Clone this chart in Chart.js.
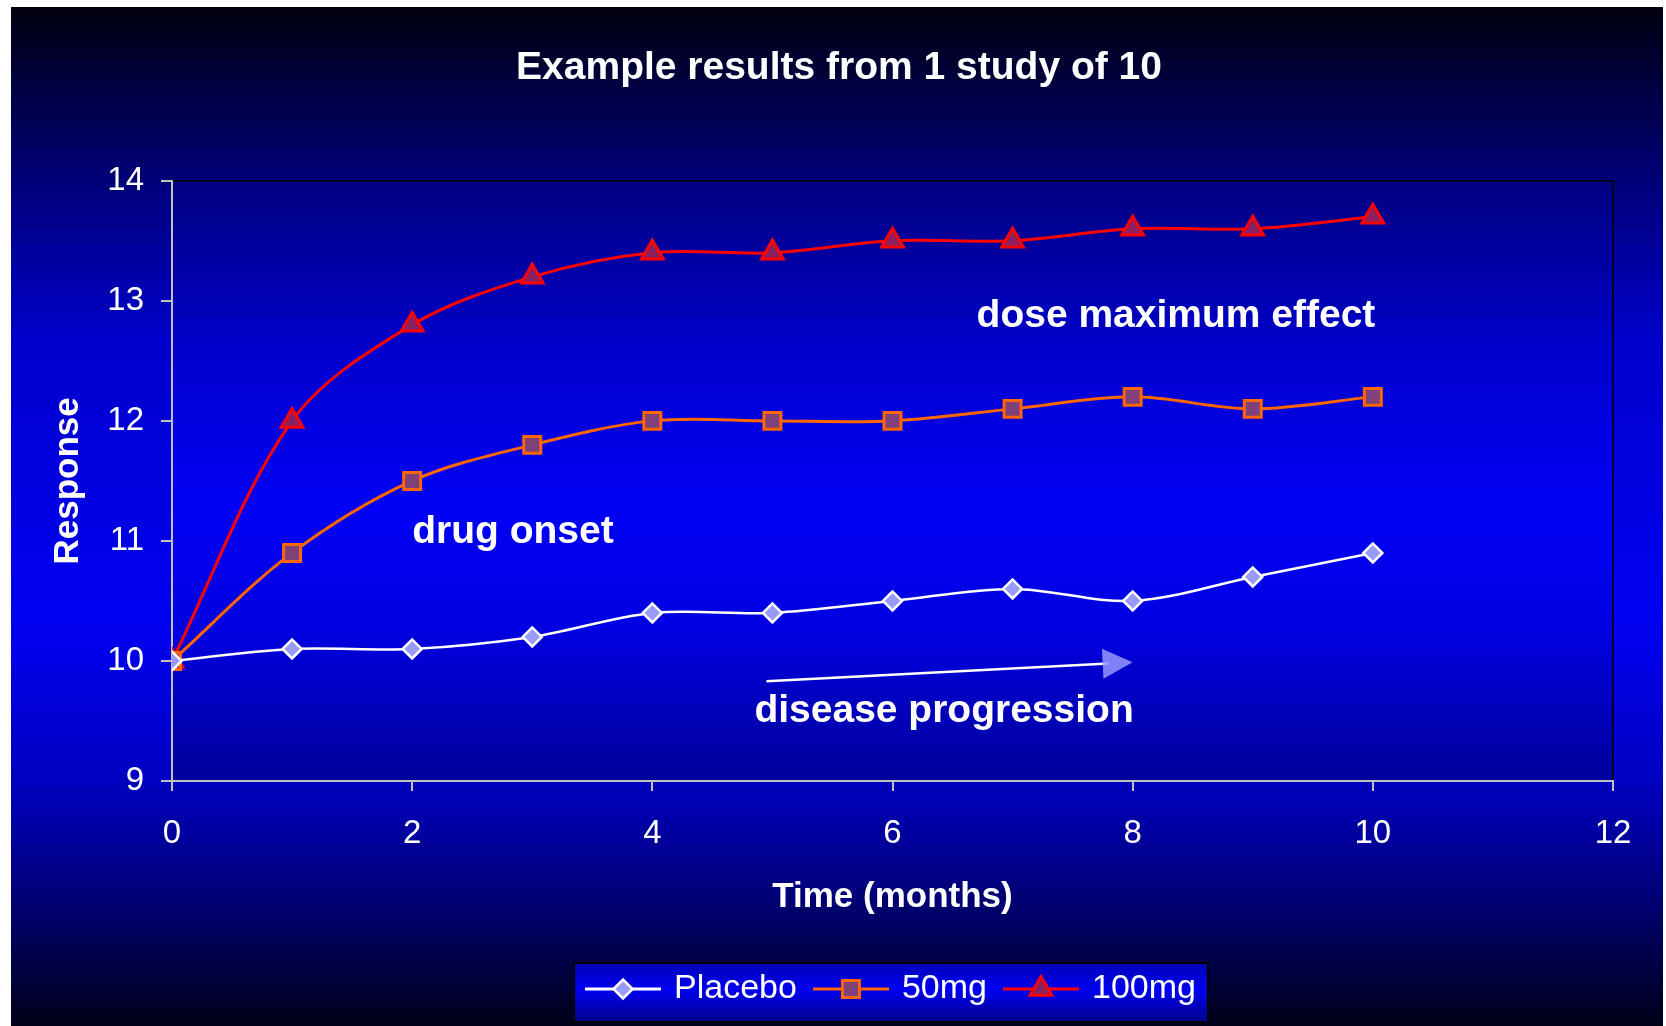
<!DOCTYPE html>
<html>
<head>
<meta charset="utf-8">
<title>Example results from 1 study of 10</title>
<script src="https://cdn.jsdelivr.net/npm/chart.js@4.4.1/dist/chart.umd.min.js"></script>
<style>
  html, body { margin: 0; padding: 0; background: #fff; }
  #wrap { width: 1666px; height: 1026px; }
</style>
</head>
<body>
<div id="wrap"><canvas id="chart" width="1666" height="1026"></canvas></div>
<script>
// values, month 0..10
var months  = [0, 1, 2, 3, 4, 5, 6, 7, 8, 9, 10];
var placebo = [10, 10.1, 10.1, 10.2, 10.4, 10.4, 10.5, 10.6, 10.5, 10.7, 10.9];
var dose50  = [10, 10.9, 11.5, 11.8, 12.0, 12.0, 12.0, 12.1, 12.2, 12.1, 12.2];
var dose100 = [10, 12.0, 12.8, 13.2, 13.4, 13.4, 13.5, 13.5, 13.6, 13.6, 13.7];
var seriesNames = ['Placebo', '50mg', '100mg'];
var xTicks = [0, 2, 4, 6, 8, 10, 12];
var yTicks = [9, 10, 11, 12, 13, 14];

// text notes, anchored in data units (left edge, baseline)
var notes = [
    { text: 'dose maximum effect', x: 6.70, y: 12.78 },
    { text: 'drug onset',          x: 2.00, y: 10.98 },
    { text: 'disease progression', x: 4.85, y: 9.49 }
];
var arrowFrom = [4.95, 9.83];
var arrowTo   = [8.00, 9.99];

var FONT = '"Liberation Sans", Arial, sans-serif';

function pts(vals) {
    return vals.map(function (v, i) { return { x: months[i], y: v }; });
}

function legendIcon(color, fill, style, radius, bw) {
    var c = document.createElement('canvas');
    c.width = 76; c.height = 32;
    var g = c.getContext('2d');
    g.strokeStyle = color; g.lineWidth = 3;
    g.beginPath(); g.moveTo(0, 16); g.lineTo(76, 16); g.stroke();
    g.fillStyle = fill; g.lineWidth = bw;
    Chart.helpers.drawPoint(g, { pointStyle: style, radius: radius, borderWidth: bw, rotation: 0 }, 38, 16);
    return c;
}

var styles = [
    { color: '#ffffff', fill: '#9999ff', point: 'rectRot',  radius: 9.5, bw: 2.5, line: 2.5 },
    { color: '#ff6600', fill: '#80407a', point: 'rect',     radius: 12, bw: 3, line: 3 },
    { color: '#ff0000', fill: '#8a2060', point: 'triangle', radius: 12.5, bw: 3, line: 3 }
];
var icons = styles.map(function (s) { return legendIcon(s.color, s.fill, s.point, s.radius, s.bw); });

var backdrop = {
    id: 'backdrop',
    beforeDraw: function (chart) {
        var ctx = chart.ctx, a = chart.chartArea;
        ctx.save();
        // outer frame
        var g = ctx.createLinearGradient(0, 7, 0, chart.height);
        g.addColorStop(0, '#000010');
        g.addColorStop(0.17, '#000078');
        g.addColorStop(0.33, '#0000cc');
        g.addColorStop(0.6, '#0000f2');
        g.addColorStop(0.76, '#0000c0');
        g.addColorStop(0.86, '#000080');
        g.addColorStop(1, '#000018');
        ctx.fillStyle = g;
        ctx.fillRect(11, 7, chart.width - 14, chart.height - 7);

        // plot area
        var pg = ctx.createLinearGradient(0, a.top, 0, a.bottom);
        pg.addColorStop(0, '#000080');
        pg.addColorStop(0.3, '#0000d0');
        pg.addColorStop(0.55, '#0000f5');
        pg.addColorStop(0.75, '#0000e0');
        pg.addColorStop(1, '#00009a');
        ctx.fillStyle = pg;
        ctx.fillRect(a.left, a.top, a.right - a.left, a.bottom - a.top);
        ctx.strokeStyle = '#000'; ctx.lineWidth = 1.5;
        ctx.beginPath();
        ctx.moveTo(a.left, a.top);
        ctx.lineTo(a.right, a.top);
        ctx.lineTo(a.right, a.bottom);
        ctx.stroke();

        // legend box
        var hb = chart.legend && chart.legend.legendHitBoxes;
        if (hb && hb.length) {
            var first = hb[0], last = hb[hb.length - 1];
            var x0 = first.left - 15, x1 = last.left + last.width + 12;
            var y0 = first.top - 9, y1 = first.top + 50;
            var lg = ctx.createLinearGradient(0, y0, 0, y1);
            lg.addColorStop(0, '#0000b8');
            lg.addColorStop(0.45, '#0000f0');
            lg.addColorStop(1, '#00008c');
            ctx.fillStyle = lg;
            ctx.fillRect(x0, y0, x1 - x0, y1 - y0);
            ctx.strokeStyle = '#000'; ctx.lineWidth = 2;
            ctx.strokeRect(x0, y0, x1 - x0, y1 - y0);
        }
        ctx.restore();
    },
    afterDraw: function (chart) {
        var ctx = chart.ctx, xs = chart.scales.x, ys = chart.scales.y;
        ctx.save();
        // arrow
        var ax0 = xs.getPixelForValue(arrowFrom[0]), ay0 = ys.getPixelForValue(arrowFrom[1]);
        var ax1 = xs.getPixelForValue(arrowTo[0]),   ay1 = ys.getPixelForValue(arrowTo[1]);
        var ang = Math.atan2(ay1 - ay0, ax1 - ax0);
        var hl = 30, hw = 15;
        var bx = ax1 - hl * Math.cos(ang), by = ay1 - hl * Math.sin(ang);
        ctx.strokeStyle = '#ffffff'; ctx.lineWidth = 2.5;
        ctx.beginPath(); ctx.moveTo(ax0, ay0); ctx.lineTo(bx + 6 * Math.cos(ang), by + 6 * Math.sin(ang)); ctx.stroke();
        ctx.fillStyle = 'rgba(150,150,255,0.85)';
        ctx.beginPath();
        ctx.moveTo(ax1, ay1);
        ctx.lineTo(bx + hw * Math.sin(ang), by - hw * Math.cos(ang));
        ctx.lineTo(bx - hw * Math.sin(ang), by + hw * Math.cos(ang));
        ctx.closePath(); ctx.fill();

        // notes
        ctx.fillStyle = '#ffffff';
        ctx.font = 'bold 39px ' + FONT;
        ctx.textAlign = 'left'; ctx.textBaseline = 'alphabetic';
        notes.forEach(function (n) {
            ctx.fillText(n.text, xs.getPixelForValue(n.x), ys.getPixelForValue(n.y));
        });
        ctx.restore();
    }
};

var series = [placebo, dose50, dose100];
var datasets = series.map(function (vals, i) {
    var s = styles[i];
    return {
        label: seriesNames[i],
        data: pts(vals),
        borderColor: s.color,
        backgroundColor: s.fill,
        borderWidth: s.line,
        pointStyle: s.point,
        pointRadius: s.radius,
        pointBorderWidth: s.bw,
        pointBorderColor: s.color,
        pointBackgroundColor: s.fill,
        tension: 0.33,
        fill: false
    };
});

new Chart(document.getElementById('chart').getContext('2d'), {
    type: 'line',
    data: { datasets: datasets },
    plugins: [backdrop],
    options: {
        responsive: false,
        animation: false,
        events: [],
        layout: { padding: { left: 65, right: 53, top: 0, bottom: 10 } },
        plugins: {
            title: {
                display: true,
                text: 'Example results from 1 study of 10',
                color: '#ffffff',
                font: { family: FONT, size: 39, weight: 'bold' },
                padding: { top: 45, bottom: 89 }
            },
            legend: {
                position: 'bottom',
                fullSize: false,
                labels: {
                    color: '#ffffff',
                    font: { family: FONT, size: 34 },
                    usePointStyle: true,
                    pointStyleWidth: 68,
                    padding: 20,
                    generateLabels: function (chart) {
                        var items = Chart.defaults.plugins.legend.labels.generateLabels(chart);
                        items.forEach(function (it, i) { it.pointStyle = icons[i]; it.fontColor = '#ffffff'; });
                        return items;
                    }
                }
            },
            tooltip: { enabled: false }
        },
        scales: {
            x: {
                type: 'linear',
                min: xTicks[0], max: xTicks[xTicks.length - 1],
                afterBuildTicks: function (s) { s.ticks = xTicks.map(function (v) { return { value: v }; }); },
                afterFit: function (s) { s.height = 171; },
                grid: { drawOnChartArea: false, drawTicks: true, tickLength: 10, color: '#c0c0c0', lineWidth: 2 },
                border: { display: true, color: '#c0c0c0', width: 2 },
                ticks: { color: '#ffffff', font: { family: FONT, size: 33 }, padding: 23, maxRotation: 0 },
                title: {
                    display: true, text: 'Time (months)', color: '#ffffff',
                    font: { family: FONT, size: 35, weight: 'bold' },
                    padding: { top: 0, bottom: 34 }
                }
            },
            y: {
                min: yTicks[0], max: yTicks[yTicks.length - 1],
                afterBuildTicks: function (s) { s.ticks = yTicks.map(function (v) { return { value: v }; }); },
                afterFit: function (s) { s.width = 107; },
                grid: { drawOnChartArea: false, drawTicks: true, tickLength: 11, color: '#c0c0c0', lineWidth: 2 },
                border: { display: true, color: '#c0c0c0', width: 2 },
                ticks: { color: '#ffffff', font: { family: FONT, size: 33 }, padding: 17 },
                title: {
                    display: true, text: 'Response', color: '#ffffff',
                    font: { family: FONT, size: 35, weight: 'bold' },
                    padding: { top: -18, bottom: 0 }
                }
            }
        }
    }
});
</script>
</body>
</html>
